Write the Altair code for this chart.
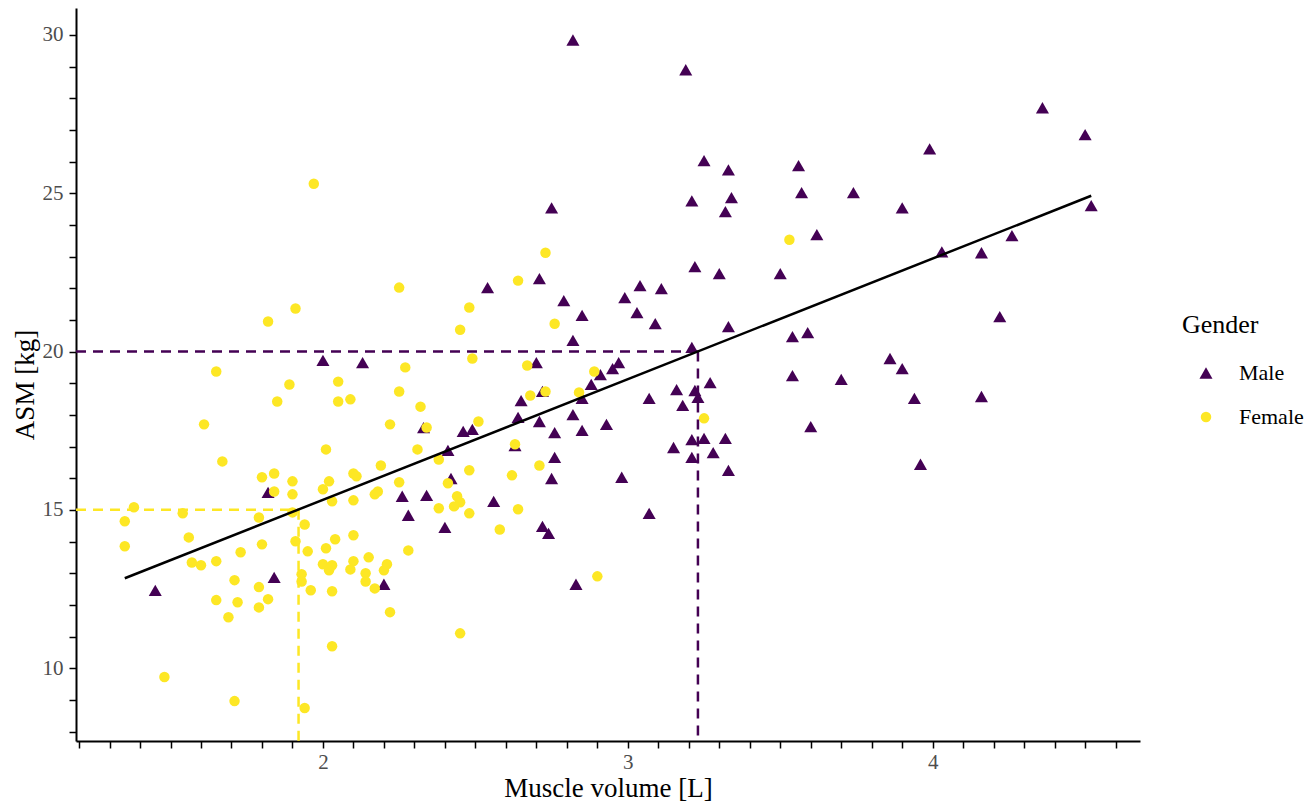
import altair as alt
import pandas as pd

# ---- data ----
male_x = [2.82, 3.19, 4.36, 4.50, 3.99, 3.25, 3.33, 3.56, 2.75, 3.21,
          3.34, 3.32, 3.57, 3.74, 3.90, 4.52, 3.62, 4.26, 4.03, 4.16,
          3.22, 3.30, 3.50, 2.54, 2.71, 2.79, 2.85, 2.99, 3.04, 3.11,
          3.03, 3.09, 3.33, 2.82, 3.21, 4.22, 3.54, 3.59, 2.00, 2.13,
          2.70, 2.97, 2.95, 2.91, 3.86, 3.90, 3.54, 3.70, 2.88, 2.72,
          2.65, 2.85, 3.07, 3.16, 3.22, 3.23, 3.27, 3.18, 3.94, 4.16,
          3.60, 2.64, 2.71, 2.82, 2.76, 2.85, 2.93, 2.33, 2.46, 2.49,
          2.63, 2.41, 2.76, 3.15, 3.21, 3.25, 3.32, 3.21, 3.28, 3.33,
          3.96, 2.75, 2.98, 2.42, 2.26, 2.34, 1.82, 2.56, 2.28, 2.40,
          3.07, 2.72, 2.74, 1.84, 1.45, 2.20, 2.83]
male_y = [29.84, 28.90, 27.70, 26.85, 26.40, 26.03, 25.74, 25.87, 24.54, 24.76,
          24.86, 24.42, 25.02, 25.02, 24.54, 24.61, 23.69, 23.66, 23.15, 23.12,
          22.68, 22.46, 22.46, 22.02, 22.30, 21.61, 21.14, 21.70, 22.08, 21.99,
          21.23, 20.88, 20.79, 20.35, 20.13, 21.10, 20.47, 20.60, 19.72, 19.65,
          19.65, 19.65, 19.46, 19.27, 19.78, 19.46, 19.24, 19.12, 18.96, 18.74,
          18.45, 18.52, 18.52, 18.80, 18.77, 18.55, 19.02, 18.30, 18.52, 18.58,
          17.63, 17.92, 17.79, 18.01, 17.44, 17.51, 17.70, 17.60, 17.48, 17.54,
          17.03, 16.88, 16.66, 16.97, 17.22, 17.26, 17.26, 16.66, 16.81, 16.25,
          16.44, 15.99, 16.03, 15.99, 15.43, 15.46, 15.55, 15.27, 14.83, 14.45,
          14.89, 14.48, 14.26, 12.87, 12.46, 12.65, 12.65]

female_x = [1.97, 1.91, 1.82, 2.25, 1.65, 1.89, 1.85, 2.05, 2.05, 2.09,
            2.27, 2.25, 2.32, 1.61, 2.22, 2.34, 2.31, 2.38, 2.01, 1.67,
            1.80, 1.84, 1.90, 2.00, 2.02, 2.10, 2.11, 2.19, 2.25, 2.17,
            2.18, 2.10, 2.03, 1.90, 1.84, 2.38, 1.38, 1.35, 1.54, 1.79,
            1.94, 1.90, 1.35, 1.56, 1.80, 1.91, 1.95, 2.01, 1.73, 1.57,
            1.60, 1.65, 2.00, 2.03, 2.02, 1.93, 1.93, 1.71, 1.79, 1.82,
            1.79, 1.72, 1.65, 1.69, 1.96, 2.03, 2.04, 2.10, 2.10, 2.09,
            2.15, 2.14, 2.14, 2.17, 2.20, 2.21, 2.22, 2.28, 2.03, 1.48,
            1.71, 1.94, 2.45, 2.51, 2.48, 2.62, 2.41, 2.44, 2.45, 2.43,
            2.48, 2.64, 2.58, 2.73, 2.64, 2.48, 2.45, 2.76, 2.49, 2.67,
            2.89, 2.73, 2.68, 2.84, 3.25, 2.63, 2.71, 2.90, 3.53]
female_y = [25.30, 21.36, 20.95, 22.02, 19.37, 18.96, 18.42, 19.05, 18.42, 18.49,
            19.50, 18.74, 18.26, 17.70, 17.70, 17.60, 16.91, 16.59, 16.91, 16.53,
            16.03, 16.15, 15.90, 15.65, 15.90, 16.15, 16.06, 16.40, 15.87, 15.49,
            15.58, 15.30, 15.27, 15.49, 15.58, 15.05, 15.08, 14.64, 14.89, 14.76,
            14.54, 14.92, 13.85, 14.13, 13.91, 14.01, 13.69, 13.79, 13.66, 13.34,
            13.25, 13.38, 13.28, 13.25, 13.09, 12.97, 12.74, 12.78, 12.56, 12.18,
            11.92, 12.08, 12.15, 11.61, 12.46, 12.43, 14.07, 14.20, 13.38, 13.12,
            13.50, 13.00, 12.74, 12.52, 13.09, 13.28, 11.77, 13.72, 10.69, 9.72,
            8.96, 8.74, 11.10, 17.79, 16.25, 16.09, 15.84, 15.43, 15.24, 15.11,
            14.89, 15.02, 14.38, 23.12, 22.24, 21.39, 20.69, 20.88, 19.78, 19.56,
            19.37, 18.74, 18.61, 18.71, 17.89, 17.07, 16.40, 12.90, 23.53]

# regression line end points
fit_x = [1.35, 4.52]
fit_y = [12.84, 24.92]

# cut-off points on the fit line
cut_group = ["Female", "Male"]
cut_x = [1.92, 3.23]
cut_y = [15, 20]
cut_colors = ["#FDE725", "#440154"]

genders = ["Male", "Female"]
gender_colors = ["#440154", "#FDE725"]
gender_shapes = ["triangle-up", "circle"]
gender_sizes = [170, 110]

x_ticks = [1.2, 1.3, 1.4, 1.5, 1.6, 1.7, 1.8, 1.9, 2, 2.1, 2.2, 2.3, 2.4, 2.5, 2.6,
           2.7, 2.8, 2.9, 3, 3.1, 3.2, 3.3, 3.4, 3.5, 3.6, 3.7, 3.8, 3.9, 4, 4.1,
           4.2, 4.3, 4.4, 4.5, 4.6]
y_ticks = [8, 9, 10, 11, 12, 13, 14, 15, 16, 17, 18, 19, 20, 21, 22, 23, 24, 25,
           26, 27, 28, 29, 30]

X_DOMAIN = [1.19, 4.68]
Y_DOMAIN = [7.7, 30.85]
W, H = 1064, 733
FONT = "Liberation Serif"

pts = pd.DataFrame({
    "volume": male_x + female_x,
    "asm": male_y + female_y,
    "gender": ["Male"] * len(male_x) + ["Female"] * len(female_x),
})
fit_df = pd.DataFrame({"volume": fit_x, "asm": fit_y})
cut_df = pd.DataFrame({
    "gender": cut_group, "cx": cut_x, "cy": cut_y, "col": cut_colors,
    "xmin": [X_DOMAIN[0]] * 2, "ymin": [Y_DOMAIN[0]] * 2,
})

xscale = alt.Scale(domain=X_DOMAIN, nice=False, zero=False)
yscale = alt.Scale(domain=Y_DOMAIN, nice=False, zero=False)

x_axis = alt.Axis(
    values=x_ticks, tickCount=500,
    labelExpr="datum.value == 2 || datum.value == 3 || datum.value == 4 ? format(datum.value, 'd') : ''",
    labelOverlap=False, grid=False, tickSize=7, tickWidth=1.5, tickColor="black",
    domainColor="black", domainWidth=2, labelFont=FONT, labelFontSize=21,
    labelColor="#4D4D4D", labelPadding=3, titleFont=FONT, titleFontSize=27,
    titleFontWeight="normal", titleColor="black", titlePadding=3,
)
y_axis = alt.Axis(
    values=y_ticks, tickCount=500,
    labelExpr="datum.value % 5 == 0 ? format(datum.value, 'd') : ''",
    labelOverlap=False, grid=False, tickSize=7, tickWidth=1.5, tickColor="black",
    domainColor="black", domainWidth=2, labelFont=FONT, labelFontSize=21,
    labelColor="#4D4D4D", labelPadding=6, titleFont=FONT, titleFontSize=27,
    titleFontWeight="normal", titleColor="black", titlePadding=3,
    titleY=H / 2 + 10,
)

legend = alt.Legend(
    title="Gender", orient="none", legendX=1106, legendY=304,
    titleFont=FONT, titleFontSize=26, titleFontWeight="normal", titleColor="black",
    labelFont=FONT, labelFontSize=22, labelColor="black",
    symbolOffset=13, labelOffset=22, rowPadding=22, titlePadding=24, padding=0,
    symbolStrokeWidth=0,
)

points = alt.Chart(pts).mark_point(filled=True, opacity=1, strokeWidth=0).encode(
    x=alt.X("volume:Q", scale=xscale, axis=x_axis, title="Muscle volume [L]"),
    y=alt.Y("asm:Q", scale=yscale, axis=y_axis, title="ASM [kg]"),
    color=alt.Color("gender:N", scale=alt.Scale(domain=genders, range=gender_colors),
                    legend=legend, title="Gender"),
    shape=alt.Shape("gender:N", scale=alt.Scale(domain=genders, range=gender_shapes),
                    legend=legend, title="Gender"),
    size=alt.Size("gender:N", scale=alt.Scale(domain=genders, range=gender_sizes),
                  legend=legend, title="Gender"),
)

hlines = alt.Chart(cut_df).mark_rule(strokeDash=[10, 7], strokeWidth=2.5).encode(
    x=alt.X("xmin:Q", scale=xscale),
    x2=alt.X2("cx:Q"),
    y=alt.Y("cy:Q", scale=yscale),
    color=alt.Color("col:N", scale=None),
)
vlines = alt.Chart(cut_df).mark_rule(strokeDash=[10, 7], strokeWidth=2.5).encode(
    x=alt.X("cx:Q", scale=xscale),
    y=alt.Y("cy:Q", scale=yscale),
    y2=alt.Y2("ymin:Q"),
    color=alt.Color("col:N", scale=None),
)

fit = alt.Chart(fit_df).mark_line(color="black", strokeWidth=2.5).encode(
    x=alt.X("volume:Q", scale=xscale),
    y=alt.Y("asm:Q", scale=yscale),
)

chart = alt.layer(points, hlines, vlines, fit).properties(
    width=W, height=H,
    background="white",
    autosize=alt.AutoSizeParams(type="none"),
    padding={"left": 68, "top": 0, "right": 167, "bottom": 60},
).configure_view(stroke=None)

chart.save("out.html", embed_options={"renderer": "svg", "actions": False})
